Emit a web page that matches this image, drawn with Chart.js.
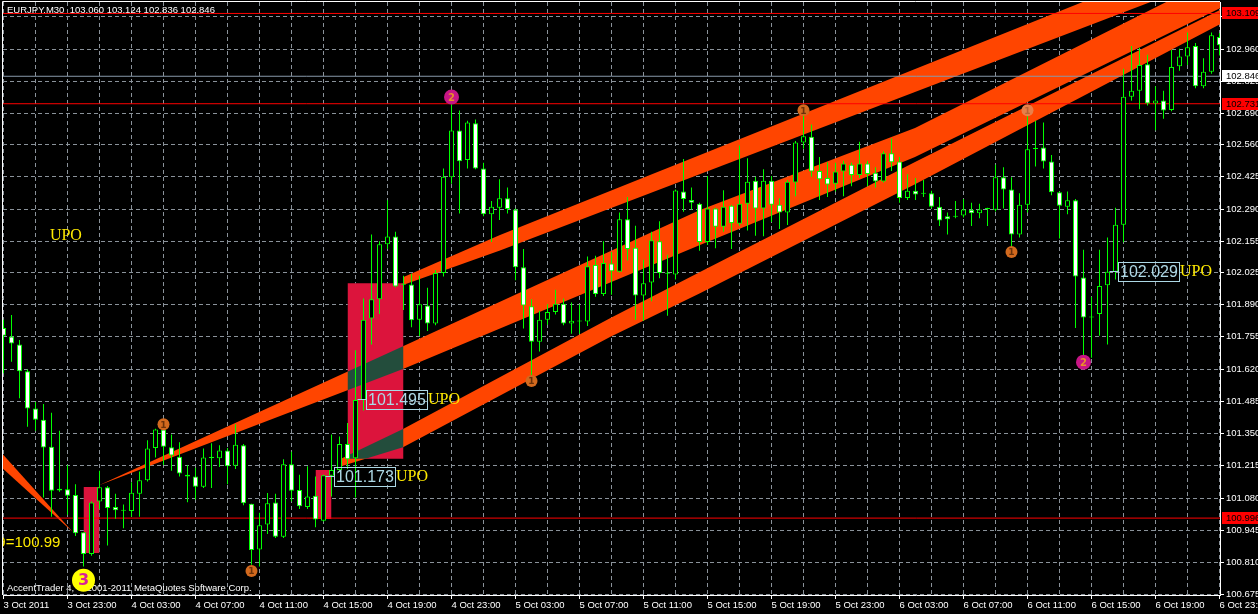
<!DOCTYPE html>
<html><head><meta charset="utf-8">
<script src="https://cdn.jsdelivr.net/npm/chart.js@4.4.1/dist/chart.umd.min.js"></script>
<style>html,body{margin:0;padding:0;background:#000;overflow:hidden}canvas{display:block}</style>
</head><body>
<canvas id="c" width="1258" height="614"></canvas>
<script>
// ---------------- DATA ----------------
const titleText = 'EURJPY.M30  103.060 103.124 102.836 102.846';
const copyrightText = 'AccentTrader 4, \u00a9 2001-2011 MetaQuotes Software Corp.';

const xLabels = ['3 Oct 2011','3 Oct 23:00','4 Oct 03:00','4 Oct 07:00','4 Oct 11:00','4 Oct 15:00','4 Oct 19:00','4 Oct 23:00','5 Oct 03:00','5 Oct 07:00','5 Oct 11:00','5 Oct 15:00','5 Oct 19:00','5 Oct 23:00','6 Oct 03:00','6 Oct 07:00','6 Oct 11:00','6 Oct 15:00','6 Oct 19:00','6 Oct 23:00'];
const yTickLabels = ['100.675','100.810','100.945','101.080','101.215','101.350','101.485','101.620','101.755','101.890','102.025','102.155','102.290','102.425','102.560','102.690','102.825','102.960','103.095'];

const opens = [101.792,101.756,101.723,101.611,101.455,101.408,101.295,101.119,101.117,101.093,
100.937,100.846,101.066,101.125,101.042,101.030,101.026,101.098,101.154,101.290,
101.367,101.293,101.253,101.178,101.170,101.127,101.252,101.247,101.279,101.215,
101.301,101.056,100.865,100.969,101.061,100.918,101.221,101.114,101.042,101.090,
100.985,101.173,101.197,101.306,101.247,101.490,101.832,101.912,102.143,102.175,
101.977,101.974,101.827,101.886,101.811,102.022,102.423,102.619,102.495,102.649,
102.460,102.268,102.296,102.335,102.288,102.046,101.883,101.734,101.827,101.859,
101.894,101.811,101.822,101.819,102.056,101.934,102.062,102.027,102.247,102.128,
101.928,101.982,102.155,102.022,102.016,102.364,102.328,102.312,102.152,102.292,
102.216,102.304,102.229,102.312,102.409,102.292,102.409,102.308,102.276,102.401,
102.569,102.593,102.449,102.420,102.396,102.447,102.476,102.433,102.481,102.442,
102.405,102.524,102.489,102.336,102.367,102.357,102.356,102.300,102.260,102.261,
102.263,102.287,102.272,102.293,102.287,102.423,102.372,102.183,102.308,102.545,
102.548,102.489,102.360,102.300,102.327,102.003,101.840,101.851,101.971,102.027,
102.224,102.760,102.785,102.896,102.732,102.745,102.705,102.888,102.929,102.973,
102.804,102.865,103.010];
const highs = [101.827,101.846,101.742,101.618,101.482,101.474,101.437,101.362,101.218,101.138,
100.937,101.066,101.194,101.130,101.098,101.053,101.146,101.191,101.322,101.370,
101.402,101.346,101.314,101.218,101.207,101.287,101.309,101.301,101.290,101.389,
101.306,101.056,101.018,101.101,101.098,101.242,101.274,101.178,101.213,101.170,
101.178,101.346,101.338,101.394,101.699,101.915,102.184,102.155,102.327,102.195,
102.011,102.019,102.011,101.960,102.035,102.460,102.729,102.703,102.660,102.665,
102.484,102.324,102.415,102.380,102.292,102.123,101.912,101.864,101.891,101.952,
101.915,101.899,101.891,102.091,102.094,102.155,102.110,102.276,102.340,102.220,
102.078,102.195,102.239,102.099,102.372,102.500,102.380,102.316,102.428,102.296,
102.369,102.308,102.556,102.503,102.425,102.457,102.428,102.335,102.412,102.575,
102.692,102.644,102.508,102.486,102.484,102.492,102.484,102.572,102.492,102.465,
102.532,102.585,102.508,102.436,102.420,102.412,102.367,102.340,102.276,102.324,
102.332,102.316,102.312,102.295,102.476,102.465,102.423,102.356,102.684,102.660,
102.652,102.516,102.364,102.364,102.332,102.120,101.923,102.120,102.171,102.296,
102.877,102.973,102.965,102.936,102.804,102.785,102.957,102.961,103.029,102.985,
102.921,103.029,103.026];
const lows = [101.603,101.651,101.498,101.378,101.362,101.082,101.002,101.106,101.010,100.921,
100.793,100.838,101.034,100.881,100.993,100.953,101.002,101.002,101.149,101.250,
101.218,101.194,101.170,101.062,101.074,101.122,101.122,101.210,101.138,101.202,
101.050,100.801,100.793,100.929,100.913,100.913,101.066,101.034,101.034,100.958,
100.982,101.086,101.191,101.202,101.082,101.447,101.723,101.851,102.123,101.963,
101.867,101.795,101.758,101.779,101.803,102.008,102.396,102.271,102.460,102.457,
102.260,102.152,102.244,102.271,101.992,101.790,101.578,101.694,101.806,101.848,
101.803,101.768,101.768,101.800,101.923,101.926,101.931,102.024,102.075,101.827,
101.822,101.904,102.000,101.843,101.995,102.279,102.287,102.115,102.139,102.126,
102.195,102.123,102.220,102.200,102.178,102.176,102.236,102.207,102.223,102.344,
102.543,102.425,102.328,102.340,102.364,102.344,102.386,102.420,102.386,102.380,
102.401,102.449,102.316,102.328,102.328,102.341,102.292,102.219,102.184,102.252,
102.255,102.219,102.252,102.219,102.280,102.292,102.123,102.171,102.276,102.468,
102.460,102.348,102.167,102.268,101.792,101.667,101.667,101.760,101.723,101.995,
102.151,102.744,102.708,102.724,102.620,102.668,102.700,102.869,102.893,102.796,
102.796,102.857,102.933];
const closes = [101.760,101.727,101.611,101.455,101.408,101.292,101.111,101.112,101.090,100.933,
100.846,101.061,101.125,101.038,101.029,101.027,101.102,101.154,101.287,101.367,
101.295,101.258,101.183,101.170,101.127,101.250,101.248,101.279,101.213,101.303,
101.058,100.862,100.966,101.058,100.918,101.221,101.111,101.046,101.086,100.990,
101.175,101.197,101.306,101.242,101.490,101.827,101.912,102.143,102.175,101.966,
101.973,101.824,101.891,101.811,102.022,102.425,102.619,102.490,102.652,102.460,
102.268,102.300,102.335,102.290,102.046,101.886,101.734,101.827,101.859,101.894,
101.811,101.822,101.819,102.051,101.934,102.064,102.030,102.247,102.123,101.928,
101.979,102.159,102.022,102.019,102.368,102.332,102.316,102.152,102.292,102.216,
102.300,102.232,102.312,102.404,102.292,102.409,102.308,102.276,102.404,102.569,
102.595,102.447,102.415,102.393,102.447,102.481,102.433,102.481,102.437,102.405,
102.524,102.486,102.336,102.367,102.351,102.354,102.300,102.242,102.247,102.258,
102.288,102.272,102.288,102.290,102.423,102.372,102.184,102.308,102.540,102.542,
102.489,102.360,102.304,102.327,102.008,101.836,101.836,101.968,102.027,102.224,
102.760,102.785,102.893,102.732,102.745,102.703,102.885,102.929,102.968,102.804,
102.865,103.018,102.976];

// horizontal price lines
const hlinePrices = [103.109, 102.846, 102.731, 100.996];

// zone rectangles (bar index from/to, price top/bottom)
const rectStart = [10, 39, 43];
const rectEnd = [12, 41, 50];
const rectTop = [101.126, 101.197, 101.979];
const rectBottom = [100.850, 100.992, 101.245];

// channel bands (bar positions, upper and lower edge prices)
const bandDX = [-1, 8.69];
const bandDTop = [101.297, 100.937];
const bandDBot = [101.231, 100.937];
const bandAX = [11.94, 49.94, 87.06, 113.94, 152.06];
const bandATop = [101.134, 101.716, 102.286, 102.629, 103.270];
const bandABot = [101.134, 101.620, 102.139, 102.508, 103.131];
const bandLX = [42.31, 49.94, 75.81, 87.06, 113.94, 152.06];
const bandLTop = [101.247, 101.369, 101.833, 102.026, 102.487, 103.123];
const bandLBot = [101.214, 101.293, 101.754, 101.938, 102.394, 103.064];
const bandTX = [49.94, 62.06, 152.06];
const bandTTop = [102.005, 102.181, 103.387];
const bandTBot = [101.972, 102.116, 103.268];

// numbered markers
const markerBars = [20, 31, 66, 100, 126, 128, 56, 135, 10];
const markerPrices = [101.389, 100.774, 101.570, 102.704, 102.110, 102.704, 102.759, 101.649, 100.736];
const markerLabels = ['1','1','1','1','1','1','2','2','3'];

// price labels (anchor bar, price)
const priceLabelBars = [41, 45, 139];
const priceLabelPrices = [101.173, 101.495, 102.029];
const priceLabelTag = 'UPO';

// free text objects
const textStrings = ['UPO', '9=100.99'];
const textBars = [5.8, -0.77];
const textPrices = [102.177, 100.891];

// ---------------- STYLES ----------------
const GRID = '#8a929a';
const LIME = '#00ff00';
const BAND = '#FF4500';
const ZONE = '#DC143C';
const YELLOW = '#FFEA00';
const LBLUE = '#ADD8E6';
const hlineColors = ['#ff0000', '#8899aa', '#ff0000', '#ff0000'];
const hlineBoxBg = ['#ff0000', '#ffffff', '#ff0000', '#ff0000'];
const markerDim = [false,false,false,false,false,true,false,false,false];
const MARK = {
  '1': {r: 6, fill: '#D2691E', dim: '#E8804A', digit: '#6a3008', font: 'bold 9px "DejaVu Sans"'},
  '2': {r: 7.5, fill: '#C71585', dim: '#C71585', digit: '#E8902A', font: 'bold 10px "DejaVu Sans"'},
  '3': {r: 11.5, fill: '#FFFF00', dim: '#FFFF00', digit: '#D81E9A', font: 'bold 16px "DejaVu Sans"'}
};
const textStyles = [
  {font: '16px "Liberation Serif"', color: YELLOW},
  {font: '15px "Liberation Sans"', color: YELLOW}
];
const AXFONT = '9.5px "Liberation Sans"';

// ---------------- DATASETS ----------------
const datasets = [];
datasets.push({ // 0 markers
  type: 'scatter',
  data: markerBars.map((b, k) => ({x: b, y: markerPrices[k]})),
  pointRadius: markerLabels.map(l => MARK[l].r),
  pointBackgroundColor: markerLabels.map((l, k) => markerDim[k] ? MARK[l].dim : MARK[l].fill),
  pointBorderWidth: 0, pointHoverRadius: 0
});
datasets.push({ // 1 candle bodies
  type: 'bar',
  data: opens.map((o, i) => ({x: i, y: [o, closes[i]]})),
  backgroundColor: opens.map((o, i) => closes[i] > o ? '#000000' : '#ffffff'),
  borderColor: LIME, borderWidth: 1, borderSkipped: false,
  barThickness: 5, grouped: false, minBarLength: 1, inflateAmount: 0
});
datasets.push({ // 2 wicks
  type: 'bar',
  data: highs.map((h, i) => ({x: i, y: [lows[i], h]})),
  backgroundColor: LIME, borderWidth: 0,
  barThickness: 1, grouped: false, inflateAmount: 0
});
hlinePrices.forEach((p, k) => datasets.push({
  type: 'line', data: [{x: -1, y: p}, {x: 153, y: p}],
  borderColor: hlineColors[k], borderWidth: 1, pointRadius: 0, fill: false
}));
const RECT_FIRST = datasets.length;
rectStart.forEach((s, k) => datasets.push({
  type: 'line', data: [{x: s, y: rectTop[k]}, {x: rectEnd[k], y: rectTop[k]}],
  borderWidth: 0, borderColor: 'transparent', pointRadius: 0,
  fill: {value: rectBottom[k]}, backgroundColor: ZONE
}));
const RECT_LAST = datasets.length - 1;
[[bandDX, bandDTop, bandDBot], [bandAX, bandATop, bandABot], [bandLX, bandLTop, bandLBot], [bandTX, bandTTop, bandTBot]]
.forEach(([xs, top, bot]) => {
  datasets.push({type: 'line', data: xs.map((x, j) => ({x, y: top[j]})), borderWidth: 0, borderColor: 'transparent', pointRadius: 0, fill: false});
  datasets.push({type: 'line', data: xs.map((x, j) => ({x, y: bot[j]})), borderWidth: 0, borderColor: 'transparent', pointRadius: 0, fill: '-1', backgroundColor: BAND});
});
rectStart.forEach((s, k) => datasets.push({ // black masks under zones
  type: 'line', data: [{x: s, y: rectTop[k]}, {x: rectEnd[k], y: rectTop[k]}],
  borderWidth: 0, borderColor: 'transparent', pointRadius: 0,
  fill: {value: rectBottom[k]}, backgroundColor: '#000000'
}));

// ---------------- PLUGIN ----------------
const overlay = {
  id: 'overlay',
  beforeDatasetsDraw(chart) {
    const ctx = chart.ctx;
    ctx.save();
    ctx.fillStyle = '#ffffff'; ctx.font = AXFONT; ctx.textBaseline = 'middle'; ctx.textAlign = 'left';
    ctx.fillText(titleText, 7, 10);
    ctx.fillText(copyrightText, 7, 588);
    ctx.restore();
  },
  afterDatasetDraw(chart, args) {
    const ctx = chart.ctx;
    if (args.index === RECT_LAST + 1) ctx.globalCompositeOperation = 'exclusion';
    if (args.index === RECT_FIRST) ctx.globalCompositeOperation = 'source-over';
  },
  afterDatasetsDraw(chart) {
    const ctx = chart.ctx, xs = chart.scales.x, ys = chart.scales.y, a = chart.chartArea;
    ctx.save();
    ctx.globalCompositeOperation = 'source-over';
    ctx.beginPath(); ctx.rect(a.left, a.top, a.right - a.left, a.bottom - a.top); ctx.clip();
    const meta = chart.getDatasetMeta(0);
    meta.data.forEach((pt, k) => {
      const st = MARK[markerLabels[k]];
      ctx.fillStyle = st.digit; ctx.font = st.font; ctx.textAlign = 'center'; ctx.textBaseline = 'middle';
      ctx.globalAlpha = markerDim[k] ? 0.35 : 1;
      ctx.fillText(markerLabels[k], pt.x, pt.y + 1);
    });
    ctx.globalAlpha = 1;
    textStrings.forEach((t, k) => {
      ctx.font = textStyles[k].font; ctx.fillStyle = textStyles[k].color;
      ctx.textAlign = 'left'; ctx.textBaseline = 'middle';
      ctx.fillText(t, xs.getPixelForValue(textBars[k]), ys.getPixelForValue(textPrices[k]));
    });
    priceLabelBars.forEach((b, k) => {
      const px = xs.getPixelForValue(b), py = Math.round(ys.getPixelForValue(priceLabelPrices[k]));
      const bx = Math.round(px + 2.5), w = 61, h = 19;
      ctx.strokeStyle = LBLUE; ctx.lineWidth = 1;
      ctx.beginPath(); ctx.moveTo(px - 6, py + 0.5); ctx.lineTo(bx, py + 0.5); ctx.stroke();
      ctx.strokeRect(bx + 0.5, py - 9 + 0.5, w, h);
      ctx.fillStyle = LBLUE; ctx.font = '16px "Liberation Sans"'; ctx.textAlign = 'left'; ctx.textBaseline = 'middle';
      ctx.fillText(priceLabelPrices[k].toFixed(3), bx + 2, py + 1.5);
      ctx.fillStyle = YELLOW; ctx.font = '16px "Liberation Serif"';
      ctx.fillText(priceLabelTag, bx + w + 1, py + 1);
    });
    ctx.restore();
  },
  afterDraw(chart) {
    const ctx = chart.ctx, ys = chart.scales.y, a = chart.chartArea;
    ctx.save();
    ctx.strokeStyle = '#ffffff'; ctx.lineWidth = 1;
    ctx.beginPath(); ctx.moveTo(a.left - 0.5, a.top - 0.5); ctx.lineTo(a.right, a.top - 0.5);
    ctx.moveTo(a.left - 0.5, a.top - 0.5); ctx.lineTo(a.left - 0.5, a.bottom); ctx.stroke();
    hlinePrices.forEach((p, k) => {
      const py = Math.round(ys.getPixelForValue(p));
      ctx.fillStyle = hlineBoxBg[k];
      ctx.fillRect(a.right + 2, py - 6, 40, 12);
      ctx.fillStyle = '#000000'; ctx.font = AXFONT; ctx.textAlign = 'left'; ctx.textBaseline = 'middle';
      ctx.fillText(p.toFixed(3), a.right + 6, py + 0.5);
    });
    ctx.restore();
  }
};

Chart.defaults.font.family = 'Liberation Sans';
new Chart(document.getElementById('c'), {
  type: 'bar',
  data: {datasets},
  options: {
    responsive: false, animation: false, devicePixelRatio: 1, events: [],
    layout: {autoPadding: false, padding: {left: 3, top: 2, right: 0, bottom: 0}},
    plugins: {legend: {display: false}, tooltip: {enabled: false}},
    scales: {
      x: {
        type: 'linear', position: 'bottom', min: -0.0625, max: 152.0625, offset: false,
        afterBuildTicks: s => { const t = []; for (let v = 0; v <= 152; v += 4) t.push({value: v}); s.ticks = t; },
        afterFit: s => { s.height = 19; s.paddingLeft = 0; s.paddingRight = 0; s.paddingTop = 0; s.paddingBottom = 0; },
        grid: {offset: false, color: GRID, lineWidth: 1, tickLength: 4, tickBorderDash: [],
               tickColor: c => (c.tick && c.tick.value % 8 === 0) ? '#ffffff' : 'rgba(0,0,0,0)'},
        border: {display: true, color: '#ffffff', width: 1, dash: [4, 3]},
        ticks: {autoSkip: false, maxRotation: 0, minRotation: 0, align: 'start', color: '#ffffff',
                font: {size: 9.5}, padding: 1,
                callback: v => (v % 8 === 0) ? xLabels[v / 8] : ''}
      },
      y: {
        type: 'linear', position: 'right', min: 100.674, max: 103.157,
        afterBuildTicks: s => { s.ticks = yTickLabels.map(t => ({value: parseFloat(t)})); },
        afterFit: s => { s.width = 38; s.paddingLeft = 0; s.paddingRight = 0; s.paddingTop = 0; s.paddingBottom = 0; },
        grid: {color: GRID, lineWidth: 1, tickLength: 4, tickBorderDash: [], tickColor: '#ffffff'},
        border: {display: true, color: '#ffffff', width: 1, dash: [4, 3]},
        ticks: {autoSkip: false, color: '#ffffff', font: {size: 9.5}, padding: 2,
                callback: (v, i) => yTickLabels[i]}
      }
    }
  },
  plugins: [overlay]
});
</script></body></html>
